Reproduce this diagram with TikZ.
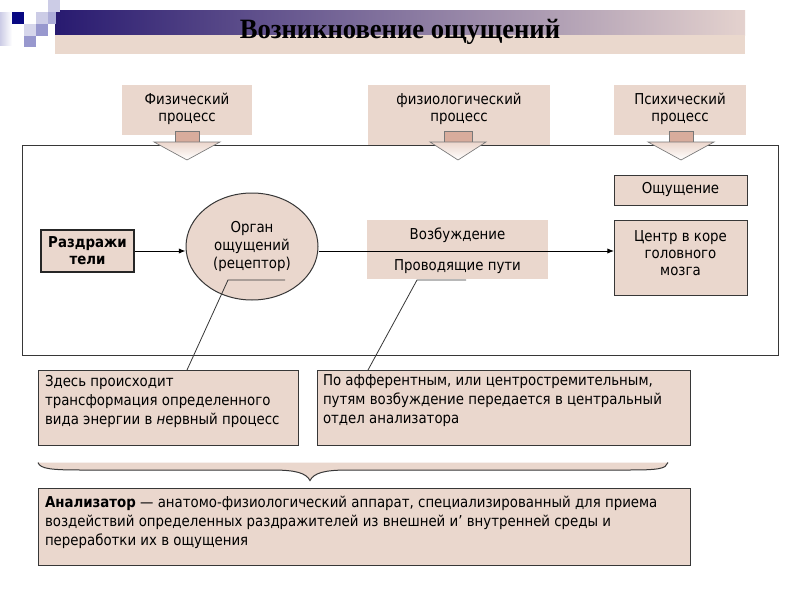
\documentclass[tikz,border=0pt]{standalone}
\usepackage{fontspec}
\setmainfont[FakeStretch=0.89]{DejaVu Sans}
\newfontfamily\titlefont[FakeStretch=0.95]{Liberation Serif}
\usetikzlibrary{shapes.geometric,arrows.meta,calc}
\definecolor{pinkfill}{RGB}{234,215,205}
\definecolor{shaftcol}{RGB}{216,172,156}
\definecolor{headtop}{RGB}{236,214,204}
\definecolor{arrowline}{RGB}{120,120,120}
\definecolor{bordercol}{RGB}{55,55,55}
\definecolor{barleft}{RGB}{40,26,112}
\definecolor{barmid}{RGB}{168,144,170}
\definecolor{barright}{RGB}{228,210,206}
\definecolor{beige}{RGB}{234,216,205}
\definecolor{navysq}{RGB}{8,8,130}
\definecolor{lav1}{RGB}{204,204,230}
\definecolor{lav2}{RGB}{152,152,206}
\newcommand\blockarr[6]{%
  \filldraw[fill=shaftcol, draw=arrowline, line width=0.5pt] (#1-#2,#4) rectangle (#1+#2,#5);
  \shade[top color=headtop, bottom color=white] (#1-#3,#5) -- (#1+#3,#5) -- (#1,#6) -- cycle;
  \draw[arrowline, line width=0.5pt, line join=miter] (#1-#3,#5) -- (#1+#3,#5) -- (#1,#6) -- cycle;
}
\tikzset{
  box/.style={draw=bordercol, line width=0.75pt, fill=pinkfill, inner sep=0pt, outer sep=0pt},
  plainbox/.style={fill=pinkfill, inner sep=0pt, outer sep=0pt},
  txt/.style={inner sep=0pt, outer sep=0pt, font=\fontsize{11.25pt}{12.75pt}\selectfont, align=center},
  notetxt/.style={inner sep=0pt, outer sep=0pt, font=\fontsize{11.25pt}{14.25pt}\selectfont, align=left, anchor=west},
  conn/.style={draw=black, line width=0.75pt, -{Latex[length=5pt,width=4pt]}},
  lead/.style={draw=bordercol, line width=0.6pt}
}
\begin{document}
\begin{tikzpicture}[x=0.75pt,y=-0.75pt]
\useasboundingbox (0,0) rectangle (800,600);
\fill[white] (0,0) rectangle (800,600);
% title bar
\shade[left color=barleft, middle color=barmid, right color=barright] (55,10) rectangle (745,35);
\fill[beige] (55,35) rectangle (745,54);
% decoration squares
\shade[left color=lav1, right color=white] (0,12) rectangle (12,45);
\fill[lav1] (48,0) rectangle (60,12);
\fill[navysq] (12,12) rectangle (24,24);
\fill[lav1] (36,12) rectangle (48,24);
\fill[lav2!80!white] (48,12) rectangle (56,24);
\fill[lav1!80!white] (24,24) rectangle (36,36);
\fill[lav2] (36,24) rectangle (48,36);
\fill[lav2] (24,36) rectangle (36,47);
\node[font=\titlefont\bfseries\fontsize{21pt}{21pt}\selectfont, inner sep=0pt] (title) at (400,32) {Возникновение ощущений};
% top process boxes
\node[plainbox, minimum width=97.5pt, minimum height=37.5pt] (topA) at (187,110) {};
\node[txt] (topAt) at (187,108.5) {Физический\\процесс};
\node[plainbox, minimum width=136.5pt, minimum height=45pt] (topB) at (459,115) {};
\node[txt] (topBt) at (459,108.5) {физиологический\\процесс};
\node[plainbox, minimum width=99pt, minimum height=37.5pt] (topC) at (680,110) {};
\node[txt] (topCt) at (680,108.5) {Психический\\процесс};
% frame
\node[draw=bordercol, line width=0.75pt, inner sep=0pt, minimum width=567pt, minimum height=157.5pt] (frame) at (400,250) {};
% block arrows
\blockarr{187}{12}{33}{131}{142}{160}
\blockarr{458}{14}{28}{131}{142}{160}
\blockarr{681}{12}{33}{131}{142}{160}
% stimulus
\node[draw=black!85, line width=1.5pt, fill=pinkfill, inner sep=0pt, minimum width=69.75pt, minimum height=31.5pt, font=\bfseries\fontsize{11.25pt}{12.75pt}\selectfont, align=center] (stim) at (87.5,251) {Раздражи\\тели};
% organ
\node[ellipse, draw=bordercol, line width=0.75pt, fill=pinkfill, inner sep=0pt, minimum width=99pt, minimum height=80.25pt, font=\fontsize{11.25pt}{13.5pt}\selectfont, align=center] (organ) at (252,246.5) {Орган\\ощущений\\(рецептор)};
% excitation
\node[plainbox, minimum width=135.75pt, minimum height=44.25pt] (excit) at (457.5,249.5) {};
\node[txt] (excitA) at (457.5,235) {Возбуждение};
\node[txt] (excitB) at (457.5,267) {Проводящие пути};
% sensation and centre
\node[box, minimum width=99.75pt, minimum height=22.5pt] (sens) at (680.5,190) {};
\node[txt] (senst) at (680.5,189.5) {Ощущение};
\node[box, minimum width=99.75pt, minimum height=56.25pt] (centre) at (680.5,257.5) {};
\node[txt] (centret) at (680.5,253) {Центр в коре\\головного\\мозга};
% connectors
\draw[conn] (stim.east) -- (stim.east -| organ.west);
\draw[conn] (stim.east -| organ.east) -- (stim.east -| centre.west);
% notes
\node[box, minimum width=195pt, minimum height=56.25pt] (note1) at (168,407.5) {};
\node[notetxt] (note1t) at (45,401) {Здесь происходит\\трансформация определенного\\вида энергии в {\itshape н}ервный процесс};
\node[box, minimum width=279.75pt, minimum height=56.25pt] (note2) at (503.5,407.5) {};
\node[notetxt] (note2t) at (323,401) {По афферентным, или центростремительным,\\путям возбуждение передается в центральный\\отдел анализатора};
% leader lines
\coordinate (c1a) at (228,280);
\coordinate (c1b) at (285,280);
\coordinate (c2a) at (417,280);
\coordinate (c2b) at (466,280);
\draw[lead] (c1b) -- (c1a) -- ($(note1.north west)+(149,0)$);
\draw[lead] (c2b) -- (c2a) -- ($(note2.north west)+(51,0)$);
% brace
\fill[pinkfill] (38,462.5) .. controls (40,469) and (52,470) .. (82,470) -- (272,470) .. controls (296,470) and (306,473) .. (310,480.5) .. controls (314,473) and (324,470) .. (348,470) -- (628,470) .. controls (658,470) and (666,469) .. (668,462.5) -- cycle;
\draw[bordercol, line width=0.75pt] (38,462.5) .. controls (40,469) and (52,470) .. (82,470) -- (272,470) .. controls (296,470) and (306,473) .. (310,480.5) .. controls (314,473) and (324,470) .. (348,470) -- (628,470) .. controls (658,470) and (666,469) .. (668,462.5);
% analyzer
\node[box, minimum width=489pt, minimum height=57.75pt] (anal) at (364,526.5) {};
\node[notetxt] (analt) at (45,522.5) {\textbf{Анализатор} — анатомо-физиологический аппарат, специализированный для приема\\воздействий определенных раздражителей из внешней и' внутренней среды и\\переработки их в ощущения};
\end{tikzpicture}
\end{document}
